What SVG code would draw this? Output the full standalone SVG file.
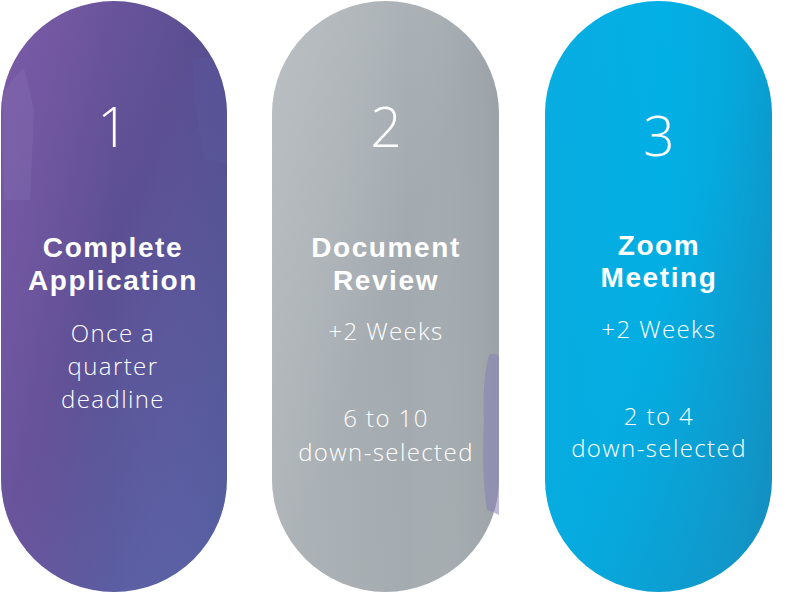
<svg xmlns="http://www.w3.org/2000/svg" width="797" height="593" viewBox="0 0 797 593">
<style>
.num{font-family:"Open Sans","Lato",sans-serif;font-weight:300;font-size:55px;fill:#fff;text-anchor:middle}
.title{font-family:"Liberation Sans","Arial",sans-serif;font-weight:700;font-size:28px;letter-spacing:1.6px;fill:#fff;text-anchor:middle}
.body{font-family:"Open Sans","Lato",sans-serif;font-weight:300;font-size:24px;letter-spacing:1.4px;fill:#fff;text-anchor:middle}
</style>
<defs>
<linearGradient id="g1" x1="0" y1="0" x2="1" y2="1">
<stop offset="0" stop-color="#7a5aa6"/>
<stop offset="0.45" stop-color="#5b4f92"/>
<stop offset="1" stop-color="#5a6aae"/>
</linearGradient>
<linearGradient id="g1b" x1="0" y1="0" x2="1" y2="0">
<stop offset="0" stop-color="#7b5aa8" stop-opacity="0.5"/>
<stop offset="0.5" stop-color="#7b5aa8" stop-opacity="0"/>
<stop offset="1" stop-color="#45417a" stop-opacity="0.25"/>
</linearGradient>
<linearGradient id="g2" x1="0" y1="0" x2="1" y2="1">
<stop offset="0" stop-color="#b6bcc0"/>
<stop offset="0.5" stop-color="#a3aaaf"/>
<stop offset="1" stop-color="#a6adb1"/>
</linearGradient>
<linearGradient id="g2b" x1="0" y1="0" x2="1" y2="0">
<stop offset="0" stop-color="#bfc4c7" stop-opacity="0.4"/>
<stop offset="0.6" stop-color="#bfc4c7" stop-opacity="0"/>
<stop offset="1" stop-color="#8c959b" stop-opacity="0.4"/>
</linearGradient>
<linearGradient id="g3" x1="0" y1="0" x2="1" y2="1">
<stop offset="0" stop-color="#03b1e6"/>
<stop offset="0.5" stop-color="#02aee3"/>
<stop offset="1" stop-color="#1690c2"/>
</linearGradient>
<linearGradient id="g3b" x1="0" y1="0" x2="1" y2="0">
<stop offset="0" stop-color="#0fa6d9" stop-opacity="0.4"/>
<stop offset="0.5" stop-color="#0fa6d9" stop-opacity="0"/>
<stop offset="1" stop-color="#1388b8" stop-opacity="0.4"/>
</linearGradient>
</defs>
<g id="step1">
<rect x="1" y="1" width="226" height="591" rx="113" ry="113" fill="url(#g1)"/>
<rect x="1" y="1" width="226" height="591" rx="113" ry="113" fill="url(#g1b)"/>
<path d="M3 95 Q14 75 24 68 Q30 90 34 110 Q32 160 30 200 L4 200 Q2 150 3 95 Z" fill="#8a7ab8" opacity="0.25"/>
<path d="M192 60 Q202 56 212 57 Q222 80 227 110 L227 165 Q214 160 205 160 Q195 120 192 60 Z" fill="#5b58a0" opacity="0.35"/>
<text class="num" x="113" y="147">1</text>
<text class="title" x="113" y="257">Complete</text>
<text class="title" x="113" y="290">Application</text>
<text class="body" x="113" y="342">Once a</text>
<text class="body" x="113" y="375">quarter</text>
<text class="body" x="113" y="408">deadline</text>
</g>
<g id="step2">
<rect x="272" y="1" width="227" height="591" rx="113.5" ry="113.5" fill="url(#g2)"/>
<rect x="272" y="1" width="227" height="591" rx="113.5" ry="113.5" fill="url(#g2b)"/>
<path d="M489 355 Q494 352 499 356 L499 515 Q494 512 487 510 Q481 470 484 420 Q482 380 489 355 Z" fill="#8680b4" opacity="0.55"/>
<text class="num" x="386" y="147">2</text>
<text class="title" x="386" y="257">Document</text>
<text class="title" x="386" y="290">Review</text>
<text class="body" x="386" y="340">+2 Weeks</text>
<text class="body" x="386" y="427">6 to 10</text>
<text class="body" x="386" y="461">down-selected</text>
</g>
<g id="step3">
<rect x="545" y="1" width="227" height="591" rx="113.5" ry="113.5" fill="url(#g3)"/>
<rect x="545" y="1" width="227" height="591" rx="113.5" ry="113.5" fill="url(#g3b)"/>
<text class="num" x="659" y="156">3</text>
<text class="title" x="659" y="255">Zoom</text>
<text class="title" x="659" y="287">Meeting</text>
<text class="body" x="659" y="338">+2 Weeks</text>
<text class="body" x="659" y="425">2 to 4</text>
<text class="body" x="659" y="457">down-selected</text>
</g>
<g id="connectors"/>
</svg>
